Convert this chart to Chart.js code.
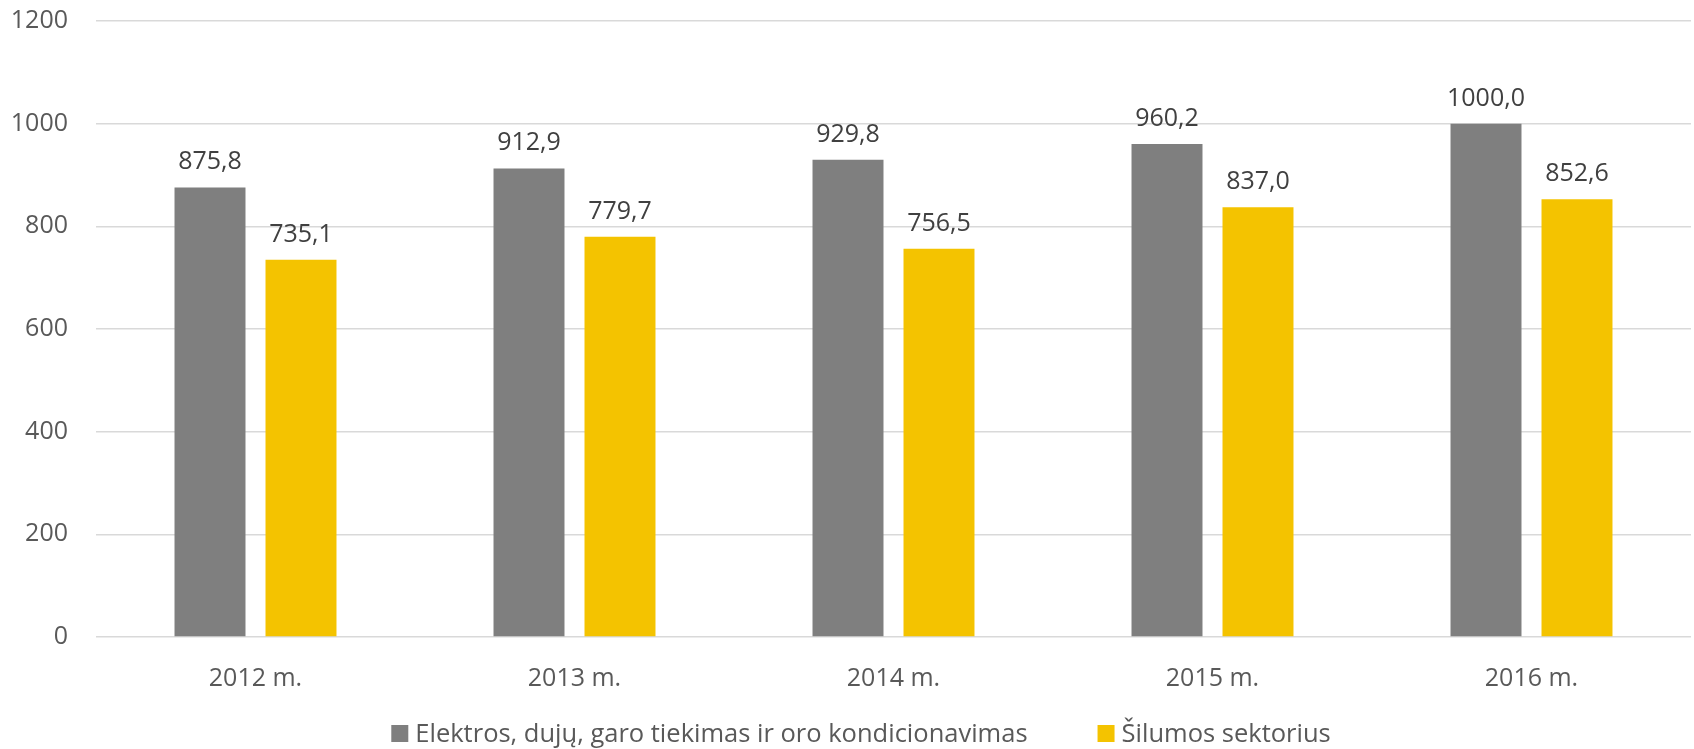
<!DOCTYPE html>
<html>
<head>
<meta charset="utf-8">
<script src="https://cdn.jsdelivr.net/npm/chart.js@4/dist/chart.umd.min.js"></script>
<style>
  html, body { margin: 0; padding: 0; background: #ffffff; }
  #wrap { width: 1694px; height: 749px; position: relative; }
</style>
</head>
<body>
<div id="wrap"><canvas id="c"></canvas></div>
<script>
const categories = ["2012 m.", "2013 m.", "2014 m.", "2015 m.", "2016 m."];
const seriesElektros = [875.8, 912.9, 929.8, 960.2, 1000.0];
const seriesSilumos = [735.1, 779.7, 756.5, 837.0, 852.6];
const seriesNames = ["Elektros, dujų, garo tiekimas ir oro kondicionavimas", "Šilumos sektorius"];
const seriesColors = ["#7f7f7f", "#f4c300"];
const yTicks = [0, 200, 400, 600, 800, 1000, 1200];

const FONT = "'Open Sans', sans-serif";

const valueLabels = {
  id: 'valueLabels',
  afterDatasetsDraw(chart) {
    const ctx = chart.ctx;
    ctx.save();
    ctx.font = "25px " + FONT;
    ctx.fillStyle = '#404040';
    ctx.textAlign = 'center';
    ctx.textBaseline = 'alphabetic';
    chart.data.datasets.forEach((ds, i) => {
      const meta = chart.getDatasetMeta(i);
      meta.data.forEach((bar, j) => {
        const v = ds.data[j];
        ctx.fillText(v.toFixed(1).replace('.', ','), bar.x, bar.y - 18);
      });
    });
    ctx.restore();
  }
};

const bottomLegend = {
  id: 'bottomLegend',
  afterDraw(chart) {
    const ctx = chart.ctx;
    ctx.save();
    ctx.font = "25.5px " + FONT;
    ctx.textBaseline = 'alphabetic';
    ctx.textAlign = 'left';
    const box = 17, gapText = 7, gapItem = 70;
    const baseline = chart.height - 7;
    const widths = chart.data.datasets.map(ds => ctx.measureText(ds.label).width);
    let total = 0;
    widths.forEach((w, i) => { total += box + gapText + w + (i < widths.length - 1 ? gapItem : 0); });
    let x = 861 - total / 2;
    chart.data.datasets.forEach((ds, i) => {
      ctx.fillStyle = ds.backgroundColor;
      ctx.fillRect(x, baseline - box, box, box);
      ctx.fillStyle = '#595959';
      ctx.fillText(ds.label, x + box + gapText, baseline);
      x += box + gapText + widths[i] + gapItem;
    });
    ctx.restore();
  }
};

new Chart(document.getElementById('c'), {
  type: 'bar',
  data: {
    labels: categories,
    datasets: [
      { label: seriesNames[0], data: seriesElektros, backgroundColor: seriesColors[0],
        categoryPercentage: 0.5705, barPercentage: 0.78 },
      { label: seriesNames[1], data: seriesSilumos, backgroundColor: seriesColors[1],
        categoryPercentage: 0.5705, barPercentage: 0.78 }
    ]
  },
  options: {
    responsive: true,
    maintainAspectRatio: false,
    animation: false,
    layout: { padding: { left: 10, right: 3, top: 21, bottom: 58 } },
    plugins: {
      legend: { display: false },
      tooltip: { enabled: false }
    },
    scales: {
      x: {
        grid: { display: false },
        border: { display: false },
        ticks: { font: { family: FONT, size: 25 }, color: '#595959', padding: 19 },
        afterFit(axis) { axis.height = 54; axis.paddingLeft = 0; axis.paddingRight = 0; }
      },
      y: {
        min: 0, max: 1200,
        afterBuildTicks(axis) { axis.ticks = yTicks.map(v => ({ value: v })); },
        grid: { color: '#d9d9d9', lineWidth: 1.5, drawTicks: false },
        border: { display: false },
        ticks: {
          font: { family: FONT, size: 25 }, color: '#595959', padding: 28,
          callback: (v) => String(v)
        },
        afterFit(axis) { axis.width = 86; axis.paddingTop = 0; axis.paddingBottom = 0; }
      }
    }
  },
  plugins: [valueLabels, bottomLegend]
});
</script>
</body>
</html>
